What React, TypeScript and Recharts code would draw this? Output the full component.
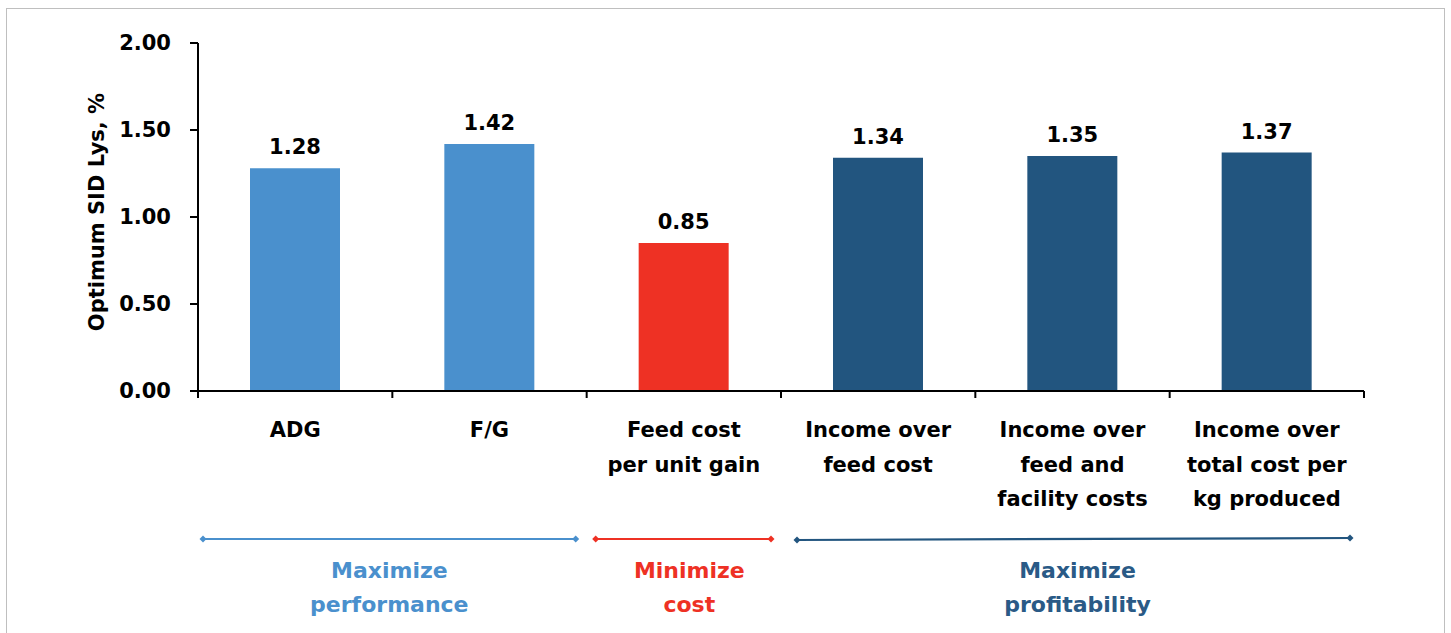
import React from 'react';
import { BarChart, Bar, XAxis, YAxis, Cell, LabelList, Label } from 'recharts';

// categories as they sit on the x axis, with the line breaks of the original
const categories = [
  'ADG',
  'F/G',
  'Feed cost per unit gain',
  'Income over feed cost',
  'Income over feed and facility costs',
  'Income over total cost per kg produced',
];
const categoryLines = [
  ['ADG'],
  ['F/G'],
  ['Feed cost', 'per unit gain'],
  ['Income over', 'feed cost'],
  ['Income over', 'feed and', 'facility costs'],
  ['Income over', 'total cost per', 'kg produced'],
];
const optimumLys = [1.28, 1.42, 0.85, 1.34, 1.35, 1.37];
const barGroup = ['performance', 'performance', 'cost', 'profit', 'profit', 'profit'];
const yTicks = [0, 0.5, 1, 1.5, 2];

const groupTitles: Record<string, string[]> = {
  performance: ['Maximize', 'performance'],
  cost: ['Minimize', 'cost'],
  profit: ['Maximize', 'profitability'],
};

// styling
const barColor: Record<string, string> = {
  performance: '#4A90CD',
  cost: '#EE3124',
  profit: '#22557F',
};
const textColor: Record<string, string> = {
  performance: '#4A90CD',
  cost: '#EE3124',
  profit: '#2A5A86',
};
// inset of each bracket from its group's band edges (left, right), y offsets below the axis, title shift
const bracketInset: Record<string, [number, number]> = {
  performance: [5, 11],
  cost: [9, 10],
  profit: [16, 14],
};
const bracketDy: Record<string, [number, number]> = {
  performance: [148, 148],
  cost: [148, 148],
  profit: [149, 147],
};
const titleDx: Record<string, number> = { performance: 0, cost: 6, profit: 4 };

const W = 1451;
const H = 633;
const MARGIN = { top: 43, right: 87, left: 0, bottom: 0 };
const Y_AXIS_W = 198;
const X_AXIS_H = 242;
const BAND = (W - MARGIN.right - Y_AXIS_W) / categories.length;
const FONT = '"DejaVu Sans", sans-serif';

const data = categories.map((c, i) => ({ category: c, value: optimumLys[i], group: barGroup[i] }));

function Diamond({ cx, cy, color }: { cx: number; cy: number; color: string }) {
  const r = 3.5;
  return <polygon points={`${cx - r},${cy} ${cx},${cy - r} ${cx + r},${cy} ${cx},${cy + r}`} fill={color} />;
}

function CategoryTick(props: any) {
  const { x, y, payload } = props;
  const idx = categories.indexOf(payload.value);
  const half = payload.offset || BAND / 2;
  const lines = categoryLines[idx] || [payload.value];
  const g = barGroup[idx];
  const isFirstOfGroup = idx === barGroup.indexOf(g);
  let bracket = null;
  if (isFirstOfGroup) {
    const count = barGroup.filter((b) => b === g).length;
    const x1 = x - half + bracketInset[g][0];
    const x2 = x - half + count * 2 * half - bracketInset[g][1];
    const y1 = y + bracketDy[g][0];
    const y2 = y + bracketDy[g][1];
    const mid = (x1 + x2) / 2 + titleDx[g];
    bracket = (
      <g>
        <line x1={x1} y1={y1} x2={x2} y2={y2} stroke={barColor[g]} strokeWidth={2.2} />
        <Diamond cx={x1} cy={y1} color={barColor[g]} />
        <Diamond cx={x2} cy={y2} color={barColor[g]} />
        <text x={mid} textAnchor="middle" fill={textColor[g]} fontSize={22} fontWeight="bold" fontFamily={FONT}>
          {groupTitles[g].map((t, k) => (
            <tspan key={k} x={mid} y={y + 187 + k * 34}>
              {t}
            </tspan>
          ))}
        </text>
      </g>
    );
  }
  return (
    <g>
      <line x1={x - half} y1={y} x2={x - half} y2={y + 7} stroke="#000" strokeWidth={2} />
      {idx === categories.length - 1 && (
        <line x1={x + half} y1={y} x2={x + half} y2={y + 7} stroke="#000" strokeWidth={2} />
      )}
      <text x={x} textAnchor="middle" fill="#000" fontSize={21} fontWeight="bold" fontFamily={FONT}>
        {lines.map((t, k) => (
          <tspan key={k} x={x} y={y + 46 + k * 34.5}>
            {t}
          </tspan>
        ))}
      </text>
      {bracket}
    </g>
  );
}

function YTitle(props: any) {
  const vb = props.viewBox || { x: 0, y: MARGIN.top, width: Y_AXIS_W, height: H - MARGIN.top - X_AXIS_H };
  const cx = vb.x + 97;
  const cy = vb.y + vb.height / 2 - 5;
  return (
    <text
      x={cx}
      y={cy}
      transform={`rotate(-90 ${cx} ${cy})`}
      textAnchor="middle"
      dominantBaseline="central"
      fill="#000"
      fontSize={21}
      fontWeight="bold"
      fontFamily={FONT}
    >
      Optimum SID Lys, %
    </text>
  );
}

export default function App() {
  return (
    <div style={{ position: 'absolute', left: 0, top: 0, width: W, height: H, overflow: 'hidden', background: '#fff', fontFamily: FONT }}>
      <div
        style={{
          position: 'absolute',
          left: 6,
          top: 8,
          width: 1439,
          height: 700,
          border: '1.5px solid #BFBFBF',
          boxSizing: 'border-box',
        }}
      />
      <div style={{ position: 'absolute', left: 0, top: 0 }}>
        <BarChart width={W} height={H} data={data} margin={MARGIN}>
          <XAxis
            dataKey="category"
            height={X_AXIS_H}
            interval={0}
            tickSize={0}
            tickMargin={0}
            tickLine={false}
            axisLine={{ stroke: '#000', strokeWidth: 2 }}
            tick={<CategoryTick />}
          />
          <YAxis
            width={Y_AXIS_W}
            domain={[0, 2]}
            ticks={yTicks}
            interval={0}
            tickSize={8}
            tickMargin={19}
            axisLine={{ stroke: '#000', strokeWidth: 2 }}
            tickLine={{ stroke: '#000', strokeWidth: 2 }}
            tickFormatter={(v: number) => v.toFixed(2)}
            tick={{ fill: '#000', fontSize: 21, fontWeight: 'bold', fontFamily: FONT }}
          >
            <Label content={<YTitle />} />
          </YAxis>
          <Bar dataKey="value" barSize={90} isAnimationActive={false}>
            {data.map((d, i) => (
              <Cell key={i} fill={barColor[d.group]} />
            ))}
            <LabelList
              dataKey="value"
              position="top"
              offset={14}
              formatter={(v: any) => Number(v).toFixed(2)}
              fill="#000"
              fontSize={21}
              fontWeight="bold"
              fontFamily={FONT}
            />
          </Bar>
        </BarChart>
      </div>
    </div>
  );
}
